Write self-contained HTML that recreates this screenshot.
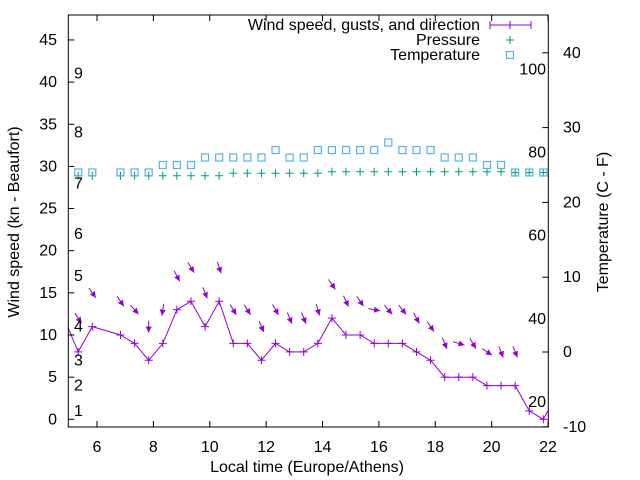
<!DOCTYPE html>
<html><head><meta charset="utf-8"><style>
body{margin:0;background:#fff}
svg{display:block;font-family:"Liberation Sans",sans-serif;font-size:16px}
</style></head><body>
<svg id="c" width="640" height="480" xmlns="http://www.w3.org/2000/svg">
<defs><clipPath id="clip"><rect x="68.3" y="15" width="480" height="412"/></clipPath></defs>
<g id="marks" clip-path="url(#clip)"></g>
<g id="axes"></g>
</svg>
<script>
const times=["4:50","5:20","5:50","6:50","7:20","7:50","8:20","8:50","9:20","9:50","10:20","10:50","11:20","11:50","12:20","12:50","13:20","13:50","14:20","14:50","15:20","15:50","16:20","16:50","17:20","17:50","18:20","18:50","19:20","19:50","20:20","20:50","21:20","21:50","22:20"];
const windSpeed=[12,8,11,10,9,7,9,13,14,11,14,9,9,7,9,8,8,9,12,10,10,9,9,9,8,7,5,5,5,4,4,4,1,0,3];
const gust=[null,12,15,14,13,11,13,17,18,15,18,13,13,11,13,12,12,13,16,14,14,13,13,13,12,11,9,9,9,8,8,8,null,null,null];
const direction=[null,326,325,326,318,0,9,332,328,338,342,329,328,337,330,338,338,344,326,335,326,280,319,321,332,326,338,287,329,304,339,339,null,null,null];
const temperature=[null,24,24,24,24,24,25,25,25,26,26,26,26,26,27,26,26,27,27,27,27,27,28,27,27,27,26,26,26,25,25,24,24,24,null];
const pressure=[null,1012.8,1012.8,1012.8,1012.8,1012.8,1012.8,1012.8,1012.8,1012.8,1012.8,1014,1014,1014,1014,1014,1014,1014,1014.8,1014.8,1014.8,1014.8,1014.8,1014.8,1014.8,1014.8,1014.8,1014.8,1014.8,1014.8,1014.8,1014.4,1014.4,1014.4,null];
const xTicks=[6,8,10,12,14,16,18,20,22];
const yTicks=[0,5,10,15,20,25,30,35,40,45];
const y2Ticks=[-10,0,10,20,30,40];
const beaufort=[1,4,7,11,17,22,28,34,41];
const fahrenheit=[20,40,60,80,100];

const L=68.3,R=548.3,T=15,B=427;
const X=h=>97+(h-6)*28.19;
const Y=v=>419.3-v*8.43;
const Y2=c=>352-c*7.48;
const YP=p=>173.3-(p-1014)*2;
const hr=s=>{const a=s.split(':');return +a[0]+a[1]/60;};
const NS="http://www.w3.org/2000/svg";
function mk(parent,tag,at,txt){const e=document.createElementNS(NS,tag);for(const k in at)e.setAttribute(k,at[k]);if(txt!==undefined)e.textContent=txt;parent.appendChild(e);return e;}
const M=document.getElementById('marks'),A=document.getElementById('axes');
const PUR="#9400d3",GRN="#009e73",BLU="#56b4e9";

let pts=times.map((t,i)=>X(hr(t)).toFixed(1)+","+Y(windSpeed[i]).toFixed(1)).join(" ");
let wl=mk(M,'polyline',{points:pts,fill:'none',stroke:PUR,'stroke-width':1});


times.forEach((t,i)=>{
  const x=X(hr(t)),y=Y(windSpeed[i]);
  const p=mk(M,'path',{d:`M${x-4},${y}h8M${x},${y-4}v8`,stroke:PUR,'stroke-width':1});
  
  
  if(gust[i]!==null){
    const cx=x,cy=Y(gust[i]),th=direction[i]*Math.PI/180;
    const dx=-Math.sin(th),dy=Math.cos(th),len=12;
    const tx=cx-dx*len/2,ty=cy-dy*len/2,hx=cx+dx*len/2,hy=cy+dy*len/2;
    const g=mk(M,'g',{});
    
    
    mk(g,'line',{x1:tx,y1:ty,x2:hx,y2:hy,stroke:PUR,'stroke-width':1});
    const px=-dy,py=dx,hl=6,hw=3;
    mk(g,'polygon',{points:`${hx},${hy} ${hx-dx*hl+px*hw},${hy-dy*hl+py*hw} ${hx-dx*hl-px*hw},${hy-dy*hl-py*hw}`,fill:PUR});
  }
  if(pressure[i]!==null){
    const py=YP(pressure[i]);
    const q=mk(M,'path',{d:`M${x-4},${py}h8M${x},${py-4}v8`,stroke:GRN,'stroke-width':1});
    
    
  }
  if(temperature[i]!==null){
    const ty=Y2(temperature[i]);
    const r=mk(M,'rect',{x:x-3.5,y:ty-3.5,width:7,height:7,fill:'none',stroke:BLU,'stroke-width':1.2});
    
    
  }
});

const fr=mk(A,'rect',{x:L,y:T,width:R-L,height:B-T,fill:'none',stroke:'#000','stroke-width':1});


xTicks.forEach(v=>{
  const x=X(v);
  mk(A,'path',{d:`M${x},${B}v-6M${x},${T}v6`,stroke:'#000'});
  const t=mk(A,'text',{x:x,y:452,'text-anchor':'middle'},v);
  
  
});
yTicks.forEach(v=>{
  const y=Y(v);
  mk(A,'path',{d:`M${L},${y}h6`,stroke:'#000'});
  const t=mk(A,'text',{x:57,y:y+5,'text-anchor':'end'},v);
  
  
});
y2Ticks.forEach(v=>{
  const y=Y2(v);
  mk(A,'path',{d:`M${R},${y}h-6`,stroke:'#000'});
  const t=mk(A,'text',{x:563,y:y+5,'text-anchor':'start'},v);
  
  
});
beaufort.forEach((v,i)=>{
  const t=mk(A,'text',{x:74,y:Y(v)+5},i+1);
  
  
});
fahrenheit.forEach(v=>{
  const t=mk(A,'text',{x:546,y:Y2((v-32)*5/9)+5,'text-anchor':'end'},v);
  
  
});
</script>
<script>
const S=document.getElementById('c');
function lab(at,txt,name){const e=document.createElementNS("http://www.w3.org/2000/svg",'text');for(const k in at)e.setAttribute(k,at[k]);e.textContent=txt;S.appendChild(e);return e;}
lab({x:307,y:472,'text-anchor':'middle'},'Local time (Europe/Athens)','x-axis-title');
lab({x:19,y:222,'text-anchor':'middle',transform:'rotate(-90 19 222)'},'Wind speed (kn - Beaufort)','y-axis-title');
lab({x:608,y:222,'text-anchor':'middle',transform:'rotate(-90 608 222)'},'Temperature (C - F)','y2-axis-title');
lab({x:480,y:30,'text-anchor':'end'},'Wind speed, gusts, and direction','legend-wind-label');
lab({x:480,y:45,'text-anchor':'end'},'Pressure','legend-pressure-label');
lab({x:480,y:60,'text-anchor':'end'},'Temperature','legend-temperature-label');
const NS2="http://www.w3.org/2000/svg";
function sh(tag,at,name){const e=document.createElementNS(NS2,tag);for(const k in at)e.setAttribute(k,at[k]);S.appendChild(e);}
sh('path',{d:'M490,25h41M490,21v8M531,21v8M510,21v8',stroke:'#9400d3',fill:'none'},'legend-wind-sample');
sh('path',{d:'M506,40h8M510,36v8',stroke:'#009e73'},'legend-pressure-sample');
sh('rect',{x:506.5,y:51.5,width:7,height:7,fill:'none',stroke:'#56b4e9','stroke-width':1.2},'legend-temperature-sample');
</script>
</body></html>
